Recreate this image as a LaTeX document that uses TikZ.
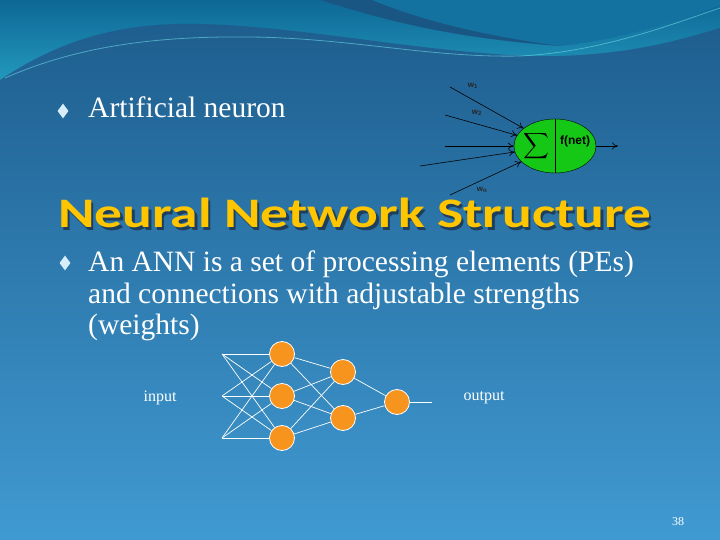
\documentclass[tikz,border=0pt]{standalone}
\usepackage{graphicx}
\usepackage{fontspec}
\setmainfont{Liberation Serif}
\newfontfamily\titlefont{Carlito}
\newfontfamily\labelfont{Liberation Sans}
\usetikzlibrary{shapes.geometric,arrows.meta}

\definecolor{bgtop}{RGB}{30,94,142}
\definecolor{bgbottom}{RGB}{64,154,210}
\definecolor{wavetop}{RGB}{14,104,150}
\definecolor{wavelight}{RGB}{40,164,198}
\definecolor{wavemid}{RGB}{20,114,160}
\definecolor{ribbon}{RGB}{26,86,132}
\definecolor{glint}{RGB}{110,215,230}
\definecolor{gold}{RGB}{255,198,0}
\definecolor{titleshadow}{RGB}{30,62,92}
\definecolor{peorange}{RGB}{247,148,29}
\definecolor{somagreen}{RGB}{22,200,22}
\definecolor{bulletblue}{RGB}{215,238,250}

\newcommand{\titletext}{\scalebox{1.32}[1]{\titlefont\bfseries\fontsize{42}{42}\selectfont Neural Network Structure}}

\begin{document}
\begin{tikzpicture}[x=1pt, y=-1pt,
    pe/.style={circle, draw=white, line width=0.8pt, fill=peorange, minimum size=25pt, inner sep=0pt},
    wire/.style={white, line width=0.7pt},
    syn/.style={-{To[length=6pt,width=7pt]}, black, line width=0.6pt},
    wlabel/.style={inner sep=0pt, font=\labelfont\bfseries\fontsize{8}{8}\selectfont, text=black!85},
    bullet/.style={diamond, fill=bulletblue, minimum width=11pt, minimum height=15pt, inner sep=0pt},
    body/.style={anchor=base west, inner sep=0pt, text=white, font=\fontsize{29.5}{29.5}\selectfont}]
    \useasboundingbox (0,0) rectangle (720,540);

    % background and waves
    \shade[top color=wavetop, bottom color=wavelight] (0,0) rectangle (720,100);
    \fill[wavemid] (320,0) .. controls (400,25) and (460,38) .. (560,46)
        .. controls (620,40) and (680,20) .. (720,5) -- (720,0) -- cycle;
    \fill[ribbon] (320,0) .. controls (400,25) and (460,38) .. (560,46)
        .. controls (470,34) and (410,16) .. (372,0) -- cycle;
    \shade[top color=bgtop, bottom color=bgbottom] (0,80) .. controls (60,40) and (120,22) .. (200,24)
        .. controls (300,26) and (420,52) .. (530,56)
        .. controls (620,58) and (680,40) .. (720,28) -- (720,540) -- (0,540) -- cycle;
    \draw[glint, opacity=0.6, line width=0.8pt] (5,78) .. controls (80,45) and (160,36) .. (250,37)
        .. controls (350,38) and (430,58) .. (520,56) .. controls (600,52) and (670,25) .. (720,8);

    % title with its shadow
    \node[anchor=base west, inner sep=0pt, text=gold] (title) at (58,228)
        {\rlap{\hspace{2.5pt}\raisebox{-2.5pt}{\color{titleshadow}\titletext}}\titletext};

    % bullets
    \node[bullet] (b1) at (63,111) {};
    \node[body] (neuronline) at (88,118) {Artificial neuron};
    \node[bullet] (b2) at (65,263) {};
    \node[body] (annline1) at (88,271) {An ANN is a set of processing elements (PEs)};
    \node[body] (annline2) at (88,303) {and connections with adjustable strengths};
    \node[body] (annline3) at (88,334) {(weights)};

    % artificial neuron
    \node[ellipse, draw, fill=somagreen, minimum width=82pt, minimum height=54pt, inner sep=0pt] (soma) at (555,146) {};
    \draw (soma.north) -- (soma.south);
    \node (sigma) at (536,146) {\scalebox{1.8}{$\displaystyle\sum$}};
    \node[font=\labelfont\bfseries\fontsize{12}{12}\selectfont] (fnet) at (575,141) {f(net)};
    \coordinate (x1) at (450,87);
    \coordinate (x2) at (445,115);
    \coordinate (x3) at (445,146);
    \coordinate (x4) at (420,166);
    \coordinate (x5) at (450,195);
    \coordinate (y) at (618,146);
    \foreach \i in {1,...,5}{
        \draw[syn] (x\i) -- (soma);
    }
    \draw[syn] (soma) -- (y);
    \node[wlabel] (w1) at (473,86) {w\textsubscript{1}};
    \node[wlabel] (w2) at (477,113) {w\textsubscript{2}};
    \node[wlabel] (wn) at (482,190) {w\textsubscript{n}};

    % network
    \coordinate (i1) at (222,354);
    \coordinate (i2) at (222,396);
    \coordinate (i3) at (222,438);
    \node[pe] (h1) at (282,354) {};
    \node[pe] (h2) at (282,396) {};
    \node[pe] (h3) at (282,438) {};
    \node[pe] (g1) at (343,372) {};
    \node[pe] (g2) at (343,418) {};
    \node[pe] (o) at (397,402) {};
    \coordinate (out) at (432,402);
    \foreach \a in {1,2,3}{
        \foreach \b in {1,2,3}{
            \draw[wire] (i\a) -- (h\b);
        }
        \foreach \b in {1,2}{
            \draw[wire] (h\a) -- (g\b);
        }
    }
    \foreach \a in {1,2}{
        \draw[wire] (g\a) -- (o);
    }
    \draw[wire] (o) -- (out);

    \node[text=white, font=\fontsize{16}{16}\selectfont] (input) at (160,398) {input};
    \node[text=white, font=\fontsize{16}{16}\selectfont] (output) at (484,398) {output};
    \node[text=white, font=\fontsize{12}{12}\selectfont] (page) at (678,522) {38};
\end{tikzpicture}
\end{document}
